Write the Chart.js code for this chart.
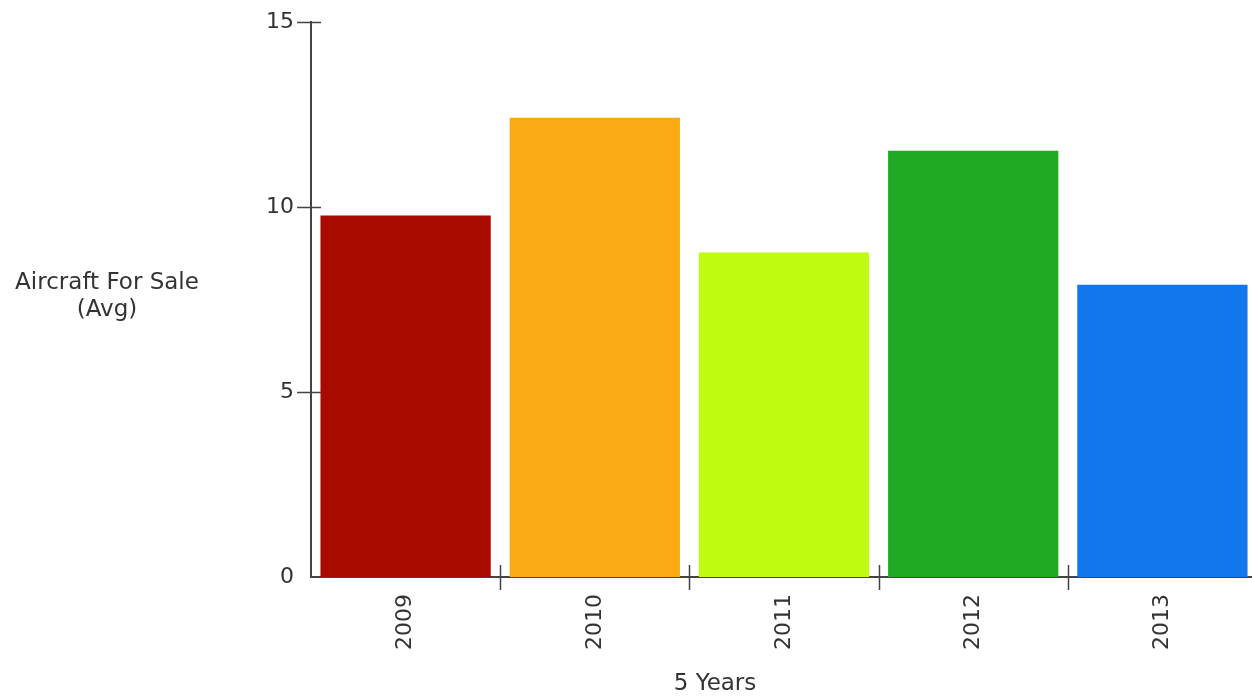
<!DOCTYPE html>
<html>
<head>
<meta charset="utf-8">
<style>
  html, body { margin: 0; padding: 0; background: #fff; overflow: hidden; }
  #wrap { width: 1252px; height: 696px; position: relative; overflow: hidden; }
</style>
<script src="https://cdn.jsdelivr.net/npm/chart.js@4/dist/chart.umd.min.js"></script>
</head>
<body>
<div id="wrap"><canvas id="chart" width="1257" height="696"></canvas></div>
<script>
// Average number of aircraft listed for sale, per year
const years = ['2009', '2010', '2011', '2012', '2013'];
const avgForSale = [9.77, 12.41, 8.77, 11.52, 7.90];
const barColors = ['#A80A00', '#F9AA15', '#BFFC10', '#20AA24', '#1177EA'];
const yTicks = [0, 5, 10, 15];
const yTitleLines = ['Aircraft For Sale', '(Avg)'];
const xTitle = '5 Years';

const FONT = '"DejaVu Sans", Verdana, sans-serif';
const TEXT = '#333';
const AXIS = '#444';

// Tick marks that cross the axis lines, plus the horizontal y title and the x title
const axisDecor = {
  id: 'axisDecor',
  afterDraw(chart) {
    const { ctx, chartArea, scales } = chart;
    const x = scales.x, y = scales.y;
    ctx.save();
    ctx.strokeStyle = AXIS;
    ctx.lineWidth = 1.5;
    ctx.beginPath();
    yTicks.forEach(v => {
      if (v === 0) return;
      const py = Math.round(y.getPixelForValue(v)) + 0.5;
      ctx.moveTo(chartArea.left - 14, py);
      ctx.lineTo(chartArea.left + 10, py);
    });
    for (let i = 1; i < years.length; i++) {
      const px = Math.round((x.getPixelForValue(i - 1) + x.getPixelForValue(i)) / 2) + 0.5;
      ctx.moveTo(px, chartArea.bottom - 12);
      ctx.lineTo(px, chartArea.bottom + 13);
    }
    ctx.stroke();

    ctx.fillStyle = TEXT;
    ctx.font = '23px ' + FONT;
    ctx.textAlign = 'center';
    ctx.textBaseline = 'middle';
    yTitleLines.forEach((line, i) => ctx.fillText(line, 107, 283 + i * 27));
    ctx.fillText(xTitle, 715, 684);
    ctx.restore();
  }
};

new Chart(document.getElementById('chart'), {
  type: 'bar',
  data: {
    labels: years,
    datasets: [{
      data: avgForSale,
      backgroundColor: barColors,
      borderWidth: 0,
      barPercentage: 0.9,
      categoryPercentage: 1.0
    }]
  },
  options: {
    responsive: false,
    animation: false,
    layout: { padding: { top: 22, right: 0, bottom: 0, left: 0 } },
    plugins: { legend: { display: false }, tooltip: { enabled: false } },
    scales: {
      x: {
        grid: { display: false, drawTicks: false },
        border: { display: true, color: AXIS, width: 2 },
        ticks: {
          color: TEXT,
          font: { family: FONT, size: 22 },
          minRotation: 90,
          maxRotation: 90,
          padding: 17
        },
        afterFit(s) {
          s.height = 119;
          s.paddingLeft = 0;
          s.paddingRight = 0;
        }
      },
      y: {
        min: 0,
        max: 15,
        afterBuildTicks(s) { s.ticks = yTicks.map(v => ({ value: v })); },
        grid: { display: false, drawTicks: false },
        border: { display: true, color: AXIS, width: 2 },
        ticks: {
          color: TEXT,
          font: { family: FONT, size: 22 },
          padding: 17
        },
        afterFit(s) {
          s.width = 311;
          s.paddingTop = 0;
          s.paddingBottom = 0;
        }
      }
    }
  },
  plugins: [axisDecor]
});
</script>
</body>
</html>
